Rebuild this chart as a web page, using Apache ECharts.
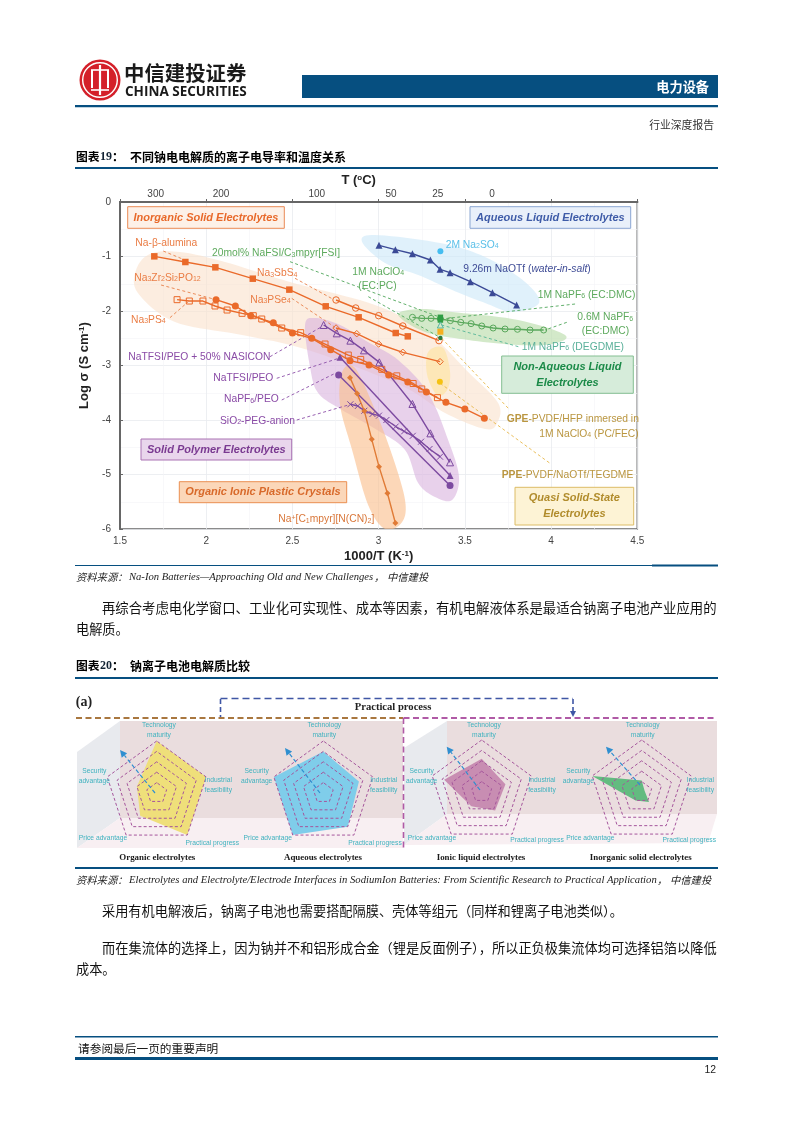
<!DOCTYPE html>
<html><head><meta charset="utf-8">
<style>html,body{margin:0;padding:0;background:#fff}#c{width:793px;height:1122px}</style>
<script src="https://cdn.jsdelivr.net/npm/echarts@6/dist/echarts.min.js"></script>
</head><body><div id="c"></div>
<script>
// ---------- main chart data (1000/T, log sigma) ----------
const naBetaAlumina=[[1.699,-0.997],[1.879,-1.101],[2.053,-1.199],[2.27,-1.407],[2.482,-1.608],[2.693,-1.914],[2.884,-2.116],[3.099,-2.404],[3.169,-2.465]];
const na3SbS4=[[2.753,-1.798],[2.867,-1.945],[3.0,-2.086],[3.14,-2.275],[3.35,-2.544]];
const na3PSe4=[[2.753,-2.312],[2.873,-2.416],[3.0,-2.606],[3.14,-2.758],[3.356,-2.93]];
const nasicon=[[2.057,-1.792],[2.169,-1.908],[2.258,-2.086],[2.389,-2.214],[2.5,-2.404],[2.612,-2.502],[2.722,-2.71],[2.834,-2.911],[2.944,-2.99],[3.058,-3.174],[3.169,-3.303],[3.277,-3.486],[3.39,-3.676],[3.5,-3.798],[3.613,-3.97]];
const na3PS4=[[1.831,-1.792],[1.902,-1.817],[1.981,-1.817],[2.051,-1.908],[2.121,-1.982],[2.208,-2.043],[2.273,-2.086],[2.322,-2.147],[2.438,-2.312],[2.548,-2.398],[2.689,-2.606],[2.824,-2.808],[2.896,-2.888],[3.018,-3.07],[3.105,-3.19],[3.2,-3.33],[3.25,-3.43],[3.341,-3.59]];
const peoNasicon=[[2.681,-2.257],[2.757,-2.41],[2.836,-2.544],[2.915,-2.722],[3.004,-2.942],[3.196,-3.706],[3.3,-4.245],[3.414,-4.777]];
const naTfsiPeo=[[2.776,-2.85],[3.414,-5.02]];
const naPf6Peo=[[2.768,-3.174],[3.414,-5.2]];
const sio2Peg=[[2.836,-3.712],[2.879,-3.743],[2.917,-3.83],[2.964,-3.89],[3.002,-3.92],[3.045,-4.0],[3.099,-4.12],[3.148,-4.208],[3.198,-4.29],[3.246,-4.398],[3.295,-4.532],[3.356,-4.673]];
const c1mpyr=[[2.834,-3.223],[2.875,-3.516],[2.917,-3.835],[2.96,-4.355],[3.002,-4.856],[3.051,-5.345],[3.097,-5.89]];
const naOTf=[[3.002,-0.795],[3.097,-0.875],[3.196,-0.949],[3.3,-1.064],[3.356,-1.235],[3.414,-1.297],[3.532,-1.462],[3.66,-1.664],[3.8,-1.89]];
const na2SO4=[[3.358,-0.905]];
const naPf6Ec=[[3.196,-2.116],[3.25,-2.135],[3.304,-2.135],[3.358,-2.147],[3.416,-2.177],[3.476,-2.208],[3.536,-2.232],[3.598,-2.275],[3.664,-2.312],[3.733,-2.33],[3.805,-2.336],[3.878,-2.349],[3.957,-2.349]];
const greenSquares=[[3.358,-2.116],[3.358,-2.165]];
const degdme=[[3.358,-2.257]];
const gpeSquare=[[3.358,-2.38]];
const clo4Dot=[[3.358,-2.495]];
const ppeDot=[[3.355,-3.297]];
// dashed leader lines
const leaders=[
 ['#e8804a',[[1.751,-0.9],[1.876,-1.064]]],['#e8804a',[[1.738,-1.523],[2.051,-1.787]]],
 ['#e8804a',[[1.79,-2.122],[1.896,-1.829]]],['#e8804a',[[2.515,-1.4],[2.737,-1.786]]],
 ['#e8804a',[[2.496,-1.768],[2.747,-2.3]]],['#4fa65a',[[2.486,-1.095],[3.347,-2.104]]],
 ['#4fa65a',[[2.94,-1.737],[3.347,-2.47]]],['#4fa65a',[[4.139,-1.872],[3.365,-2.147]]],
 ['#4fa65a',[[4.091,-2.208],[3.965,-2.349]]],['#55b596',[[3.81,-2.654],[3.365,-2.257]]],
 ['#8c4fa8',[[2.37,-2.838],[2.67,-2.287]]],['#8c4fa8',[[2.409,-3.235],[2.766,-2.87]]],
 ['#8c4fa8',[[2.438,-3.633],[2.747,-3.144]]],['#8c4fa8',[[2.525,-4.0],[2.824,-3.725]]],
 ['#e8b84a',[[3.365,-2.5],[3.752,-3.786]]],['#e8b84a',[[3.357,-3.327],[3.994,-4.795]]]
];
// shaded regions
const blobInorganic=[[1.593,-1.248],[1.674,-0.954],[1.848,-0.917],[2.109,-1.101],[2.486,-1.468],[2.979,-1.89],[3.281,-2.385],[3.519,-3.119],[3.693,-3.688],[3.687,-4.055],[3.617,-4.165],[3.385,-3.872],[3.124,-3.358],[2.59,-2.716],[2.208,-2.44],[1.819,-2.202],[1.604,-1.67]];
const blobPolymer=[[2.573,-2.257],[2.631,-2.128],[2.776,-2.257],[2.938,-2.569],[3.113,-2.899],[3.287,-3.505],[3.403,-4.367],[3.466,-5.046],[3.426,-5.468],[3.327,-5.413],[3.229,-5.156],[3.153,-4.55],[2.991,-4.183],[2.788,-3.817],[2.649,-3.505],[2.602,-3.028]];
const blobPlastic=[[2.788,-3.119],[2.863,-3.046],[2.979,-3.817],[3.078,-4.642],[3.153,-5.468],[3.136,-5.872],[3.037,-6],[2.939,-5.56],[2.846,-4.55],[2.776,-3.725]];
const blobAqueous=[[2.904,-0.734],[2.979,-0.606],[3.356,-0.752],[3.617,-1.009],[3.849,-1.468],[3.93,-1.853],[3.774,-2.018],[3.617,-1.853],[3.426,-1.615],[3.229,-1.339],[3.037,-1.119]];
const blobNonAqueous=[[3.113,-2.073],[3.229,-1.963],[3.426,-2.018],[3.809,-2.165],[4.081,-2.44],[4.006,-2.606],[3.809,-2.624],[3.519,-2.532],[3.269,-2.385]];
const blobQuasi=[[3.287,-2.752],[3.374,-2.679],[3.414,-3.119],[3.397,-3.45],[3.339,-3.541],[3.281,-3.174]];
// axes
const topTickValues=[1.707,2.086,2.641,3.072,3.343,3.658];
const topTickLabels=['300','200','100','50','25','0'];
// radar data
const radarAxes=['Technology maturity','Security advantage','Price advantage','Practical progress','Industrial feasibility'];
const organicValues=[5,2.0,2.7,5,5];
const aqueousValues=[4,5,5,4,3.6];
const ionicValues=[3.2,3.8,1.7,2.2,2.4];
const inorganicValues=[1.1,5,1.0,1.2,0.3];

// ---------- helpers ----------
const SANS='"Liberation Sans",Arial,sans-serif', CJK='"Noto Sans CJK SC",sans-serif', SERIF='"Liberation Serif","Noto Sans CJK SC",serif';
function T(text,x,y,o){o=o||{};const fs=o.size||10.3;
 return {type:'text',x,y,z:o.z||20,silent:true,style:{text,fill:o.color||'#333',fontSize:fs,fontFamily:o.font||SANS,fontWeight:o.weight||'normal',fontStyle:o.style||'normal',align:o.align||'left',verticalAlign:'middle',
  rich:{s:{fontSize:fs*0.68,verticalAlign:'bottom',fill:o.color||'#333'},u:{fontSize:fs*0.68,verticalAlign:'top',fill:o.color||'#333'},b:{fontSize:fs,fontWeight:'bold',fill:o.color||'#333',fontFamily:o.font||SANS},i:{fontSize:fs,fontStyle:'italic',fill:o.color||'#333',fontFamily:o.font||SANS}}}};}
function R(x,y,w,h,fill,o){o=o||{};return {type:'rect',z:o.z===undefined?1:o.z,silent:true,shape:{x,y,width:w,height:h},style:{fill,stroke:o.stroke||null,lineWidth:o.lw||0}};}
function L(x1,y1,x2,y2,color,w,dash,z){return {type:'line',z:z||3,silent:true,shape:{x1,y1,x2,y2},style:{stroke:color,lineWidth:w,lineDash:dash||null,fill:null}};}
function P(points,fill,z){return {type:'polygon',z:z===undefined?-5:z,silent:true,shape:{points},style:{fill}};}
function arrow(x1,y1,x2,y2,color,w,dash,sz){const a=Math.atan2(y2-y1,x2-x1),c=Math.cos(a),s=Math.sin(a);
 return [L(x1,y1,x2-c*sz,y2-s*sz,color,w,dash,6),P([[x2,y2],[x2-c*sz-s*sz*.5,y2-s*sz+c*sz*.5],[x2-c*sz+s*sz*.5,y2-s*sz-c*sz*.5]],color,6)];}
function box(x0,y0,x1,y1,fill,stroke,color,lines){const out=[R(x0,y0,x1-x0,y1-y0,fill,{stroke,lw:1,z:12})];const fs=11;const lh=16;const cy=(y0+y1)/2;
 lines.forEach((t,i)=>out.push(T(t,(x0+x1)/2,cy+(i-(lines.length-1)/2)*lh,{size:fs,color,weight:'bold',style:'italic',align:'center'})));return out;}
// closed Catmull-Rom outline through the region's pixel points, for a soft blob edge
function soften(p){const out=[],n=p.length;for(let i=0;i<n;i++){const a=p[(i-1+n)%n],b=p[i],c=p[(i+1)%n],d=p[(i+2)%n];
  for(let k=0;k<10;k++){const t=k/10,t2=t*t,t3=t2*t;
   out.push([0,1].map(j=>0.5*(2*b[j]+(c[j]-a[j])*t+(2*a[j]-5*b[j]+4*c[j]-d[j])*t2+(3*b[j]-a[j]-3*c[j]+d[j])*t3)));}}
 return out;}

// ---------- series ----------
function lineS(name,data,color,symbol,size,open,extra){return Object.assign({name,type:'line',data,showAllSymbol:true,symbol,symbolSize:size,z:5,silent:true,animation:false,clip:false,
 lineStyle:{color,width:1.4},itemStyle:{color:open?'rgba(255,255,255,0)':color,borderColor:color,borderWidth:open?1:0}},extra||{});}
function blob(name,pts,color,z){return {name,type:'custom',z:z||1,silent:true,animation:false,clip:true,data:[[pts[0][0],pts[0][1]]],
 renderItem:(p,api)=>({type:'polygon',shape:{points:soften(pts.map(q=>api.coord(q)))},style:{fill:color}})};}
const OR='#ea6a2a',PU='#7c4aa0',GR='#5aa85c',CROSS='path://M0 0L10 10M10 0L0 10';
const series=[
 blob('Inorganic region',blobInorganic,'rgba(250,226,205,.62)'),
 blob('Aqueous region',blobAqueous,'rgba(205,232,248,.62)'),
 blob('Non-aqueous region',blobNonAqueous,'rgba(190,222,176,.68)'),
 blob('Quasi-solid region',blobQuasi,'rgba(253,228,165,.7)'),
 blob('Polymer region',blobPolymer,'rgba(216,175,220,.58)'),
 blob('Plastic crystal region',blobPlastic,'rgba(250,190,140,.62)'),
];
leaders.forEach((l,i)=>series.push({name:'leader '+i,type:'line',data:l[1],symbol:'none',z:3,silent:true,animation:false,clip:false,lineStyle:{color:l[0],width:0.9,type:[3,2.5]}}));
series.push(
 lineS('Na-β-alumina',naBetaAlumina,OR,'rect',6.5,false),
 lineS('Na3SbS4',na3SbS4,OR,'circle',6.5,true),
 lineS('Na3PSe4',na3PSe4,OR,'diamond',6.5,true),
 lineS('Na3PS4',na3PS4,OR,'rect',6,true),
 lineS('Na3Zr2Si2PO12',nasicon,OR,'circle',7,false),
 lineS('NaTFSI/PEO + 50% NASICON',peoNasicon,PU,'triangle',7,true),
 lineS('NaTFSI/PEO',naTfsiPeo,PU,'triangle',7,false),
 lineS('NaPF6/PEO',naPf6Peo,PU,'circle',7,false),
 lineS('SiO2-PEG-anion',sio2Peg,PU,CROSS,6,true),
 lineS('Na+[C1mpyr][N(CN)2]',c1mpyr,'#e07b36','diamond',6,false),
 lineS('9.26m NaOTf',naOTf,'#3b4a96','triangle',7,false),
 lineS('2M Na2SO4',na2SO4,'#45bdf0','circle',6,false),
 lineS('0.6M NaPF6',naPf6Ec,GR,'circle',6,true),
 lineS('1M NaPF6 (EC:DMC)',greenSquares,'#2f9e44','rect',5.5,false),
 lineS('1M NaPF6 (DEGDME)',degdme,'#55b5a0','triangle',6,true),
 lineS('GPE square',gpeSquare,'#f5b021','rect',6,false),
 lineS('1M NaClO4 (EC:PC)',clo4Dot,'#2c7a3c','circle',4.5,false),
 lineS('PPE',ppeDot,'#f5c211','circle',6,false)
);
const radarColors=['#efdf7a','#7fcdea','#c88db2','#63bb80'];
const radarCenters=[[156.7,793],[323.3,793],[481.7,792],[641.7,792]];
[organicValues,aqueousValues,ionicValues,inorganicValues].forEach((v,i)=>series.push({type:'radar',radarIndex:i,silent:true,animation:false,symbol:'none',z:4,
 data:[{value:v,lineStyle:{width:0},areaStyle:{color:radarColors[i],opacity:1}}]}));
const radars=radarCenters.map(c=>({center:c,radius:52,startAngle:90,splitNumber:5,shape:'polygon',z:5,
 indicator:radarAxes.map(name=>({name,max:5,min:0})),axisName:{show:false},axisLine:{show:false},axisTick:{show:false},splitArea:{show:false},
 splitLine:{lineStyle:{color:'#a5559c',type:[3,2.2],width:1}}}));

// ---------- page furniture ----------
const BLUE='#064f80';
let g=[];
// logo
g.push({type:'circle',z:3,silent:true,shape:{cx:100,cy:80,r:20.5},style:{fill:'#d4202a'}});
g.push({type:'circle',z:4,silent:true,shape:{cx:100,cy:80,r:17.3},style:{fill:null,stroke:'#fff',lineWidth:1.4}});
[[91,70,2,18],[98.9,65,2.2,30],[107,70,2,18]].forEach(r=>g.push(R(r[0],r[1],r[2],r[3],'#fff',{z:4})));
[[91,70,109,70],[91,90,109,90]].forEach(l=>g.push(L(l[0],l[1],l[2],l[3],'#fff',1.6,null,4)));
g.push(T('中信建投证券',124,73.5,{font:CJK,size:20.4,weight:'bold',color:'#1a1a1a'}));
g.push(T('CHINA SECURITIES',125,92,{size:13.5,weight:'bold',color:'#1a1a1a',font:'"Open Sans","Liberation Sans",sans-serif'}));
g.push(R(302,75,416,23,BLUE),T('电力设备',709,87,{font:CJK,size:13.2,weight:'bold',color:'#fff',align:'right'}));
g.push(R(75,105,643,2.2,BLUE));
g.push(T('行业深度报告',714,124.5,{font:CJK,size:10.8,color:'#333',align:'right'}));
// figure 19 heading
g.push(T('图表',76,157,{font:CJK,size:11.8,weight:'bold',color:'#000'}),T('19',100,157,{font:SERIF,size:12,weight:'bold',color:'#123'}),T('：',112,157,{font:CJK,size:11.8,weight:'bold',color:'#000'}));
g.push(T('不同钠电电解质的离子电导率和温度关系',130,157,{font:CJK,size:12,weight:'bold',color:'#000'}));
g.push(R(75,167,643,2,BLUE));
g.push(R(75,565,577,1,BLUE),R(652,564.5,66,2,BLUE));
g.push(T('资料来源：',76,577,{font:CJK,size:10.3,style:'italic',color:'#222'}),T('Na-Ion Batteries—Approaching Old and New Challenges',129,577,{font:SERIF,size:10.6,style:'italic',color:'#222'}),T('，',374,577,{font:CJK,size:10.3,style:'italic',color:'#222'}),T('中信建投',387,577,{font:CJK,size:10.3,style:'italic',color:'#222'}));
// body
g.push(T('再综合考虑电化学窗口、工业化可实现性、成本等因素，有机电解液体系是最适合钠离子电池产业应用的',102,607.5,{font:CJK,size:13.37,color:'#111'}));
g.push(T('电解质。',76,628.7,{font:CJK,size:13.2,color:'#111'}));
g.push(T('图表',76,666,{font:CJK,size:11.8,weight:'bold',color:'#000'}),T('20',100,666,{font:SERIF,size:12,weight:'bold',color:'#123'}),T('：',112,666,{font:CJK,size:11.8,weight:'bold',color:'#000'}));
g.push(T('钠离子电池电解质比较',130,666,{font:CJK,size:12,weight:'bold',color:'#000'}));
g.push(R(75,677,643,2,BLUE));
// figure 20 panels
g.push(P([[77,752],[120,721],[120,818],[77,848]],'#e8eaee'));
g.push(P([[120,721],[403,721],[403,818],[120,818]],'#eaddde'));
g.push(P([[120,818],[403,818],[403,848],[77,848]],'#f8eff2'));
g.push(P([[404,748],[447,721],[447,814],[404,845]],'#e8eaee'));
g.push(P([[447,721],[717,721],[717,814],[447,814]],'#eaddde'));
g.push(P([[447,814],[717,814],[708,843],[404,845]],'#f8eff2'));
g.push(L(76,718,403,718,'#a9773f',2,[6,3.5]),L(403.5,718,717,718,'#b05aa6',2,[6,3.5]),L(403.5,718,403.5,848,'#b05aa6',1.6,[6,3.5]));
g.push(L(220.5,699,220.5,717,'#3f56a5',1.6,[5,3]),L(220.5,698.5,573,698.5,'#3f56a5',1.6,[7,4]));
g.push(...arrow(573,699,573,717,'#3f56a5',1.6,[5,3],6));
g.push(T('(a)',84,702,{font:SERIF,size:14,weight:'bold',color:'#222',align:'center'}));
g.push(T('Practical process',393,707,{font:SERIF,size:10.6,weight:'bold',color:'#222',align:'center'}));
[[155,793,120,750],[320,793,285,748],[480,790,446.7,746.7],[640,785,606,746.7]].forEach(a=>g.push(...arrow(a[0],a[1],a[2],a[3],'#2f8fd0',1.2,[4,2.5],7)));
const RC='#3fb2bf',RS=6.7;
[[159,94.3,218.3,103,838,212.3,842.7],[324.3,256.7,383.7,267.7,838,375,842.7],[484,421.7,542,432,837.7,537,840],[642.7,578.3,700.3,590.3,837.7,689.3,840]].forEach(p=>{
 const o={size:RS,color:RC,align:'center'};
 g.push(T('Technology',p[0],725,o),T('maturity',p[0],735,o),T('Security',p[1],771,o),T('advantage',p[1],781,o),T('Industrial',p[2],780,o),T('feasibility',p[2],789.7,o),T('Price advantage',p[3],p[4],o),T('Practical progress',p[5],p[6],o));
});
[['Organic electrolytes',157.3],['Aqueous electrolytes',323],['Ionic liquid electrolytes',481],['Inorganic solid electrolytes',640.7]].forEach(a=>g.push(T(a[0],a[1],857.7,{font:SERIF,size:8.9,weight:'bold',color:'#1a1a1a',align:'center'})));
g.push(R(75,867,643,2,BLUE));
g.push(T('资料来源：',76,880,{font:CJK,size:10.3,style:'italic',color:'#222'}),T('Electrolytes and Electrolyte/Electrode Interfaces in SodiumIon Batteries: From Scientific Research to Practical Application',129,880,{font:SERIF,size:10.66,style:'italic',color:'#222'}),T('，',657,880,{font:CJK,size:10.3,style:'italic',color:'#222'}),T('中信建投',670,880,{font:CJK,size:10.3,style:'italic',color:'#222'}));
g.push(T('采用有机电解液后，钠离子电池也需要搭配隔膜、壳体等组元（同样和锂离子电池类似）。',102,911,{font:CJK,size:13.2,color:'#111'}));
g.push(T('而在集流体的选择上，因为钠并不和铝形成合金（锂是反面例子），所以正负极集流体均可选择铝箔以降低',102,948,{font:CJK,size:13.22,color:'#111'}));
g.push(T('成本。',76,969,{font:CJK,size:13.2,color:'#111'}));
g.push(R(75,1036,643,1.5,BLUE),T('请参阅最后一页的重要声明',78,1049,{font:CJK,size:11.7,color:'#111'}),R(75,1057,643,3,BLUE));
g.push(T('12',716,1070,{size:10.4,color:'#222',align:'right'}));
// chart boxes
g.push(...box(127.7,206.7,284.3,228.3,'#fdf1e8','#ea8a55','#e8692a',['Inorganic Solid Electrolytes']));
g.push(...box(470,206.7,630.7,228.3,'#e9f0fa','#8aa6d2','#3f5ca8',['Aqueous Liquid Electrolytes']));
g.push(...box(501.7,356,633.3,393.3,'#d6ecda','#84bf92','#1b8a48',['Non-Aqueous Liquid','Electrolytes']));
g.push(...box(141,439,291.7,460,'#e9d6ec','#aa72b3','#7a3a91',['Solid Polymer Electrolytes']));
g.push(...box(179.3,481.7,346.7,502.7,'#fbd7b9','#ea8f52','#d8692a',['Organic Ionic Plastic Crystals']));
g.push(...box(515,487.3,633.7,525,'#fdf3d5','#dcbc66','#b18c2c',['Quasi Solid-State','Electrolytes']));
// chart labels
const O='#ea7d45',V='#8a4ba6',G='#5eaa5e',TE='#5ab09a',Y='#ba9640';
[['Na-β-alumina',135.3,243,O],['20mol% NaFSI/C{s|3}mpyr[FSI]',212,253.3,G],['Na{s|3}Zr{s|2}Si{s|2}PO{s|12}',134.3,277.7,O],['Na{s|3}PS{s|4}',131,320,O],['Na{s|3}SbS{s|4}',257,273.3,O],['Na{s|3}PSe{s|4}',250.3,300,O],
 ['1M NaClO{s|4}',352.3,271.7,G],['(EC:PC)',358.3,285.7,G],['NaTFSI/PEO + 50% NASICON',128.3,357.3,V],['NaTFSI/PEO',213.3,378.3,V],['NaPF{s|6}/PEO',224,399.3,V],['SiO{s|2}-PEG-anion',220,421,V],
 ['Na{u|+}[C{s|1}mpyr][N(CN){s|2}]',278.3,519.3,'#d9773a'],['2M Na{s|2}SO{s|4}',445.7,245,'#59bfe8'],['9.26m NaOTf ({i|water-in-salt})',463.3,269,'#3f4c96'],['1M NaPF{s|6} (EC:DMC)',537.7,295,G],
 ['0.6M NaPF{s|6}',577.3,317.3,G],['(EC:DMC)',581.7,331,G],['1M NaPF{s|6} (DEGDME)',521.7,347,TE],['{b|GPE}-PVDF/HFP inmersed in',506.7,419,Y],['1M NaClO{s|4} (PC/FEC)',539.3,434,Y],['{b|PPE}-PVDF/NaOTf/TEGDME',501.7,475,Y]
].forEach(l=>g.push(T(l[0],l[1],l[2],{color:l[3]})));

// ---------- chart ----------
const axisLine={show:true,lineStyle:{color:'#666',width:2}};
const splitLine={show:true,lineStyle:{color:'#e9ebef',width:0.8}};
const minorSplitLine={show:true,lineStyle:{color:'#f3f4f6',width:0.6}};
const nameStyle={fontFamily:SANS,fontSize:13,fontWeight:'bold',color:'#222',rich:{u:{fontSize:8,fontWeight:'bold',verticalAlign:'top',color:'#222',fontFamily:SANS}}};
const chart=echarts.init(document.getElementById('c'),null,{renderer:'canvas',width:793,height:1122});
chart.setOption({animation:false,backgroundColor:'#fff',
 grid:{left:120,top:202,width:517.3,height:327,show:true,borderColor:'#666',borderWidth:1.5,backgroundColor:'transparent',containLabel:false},
 xAxis:[
  {type:'value',min:1.5,max:4.5,interval:0.5,position:'bottom',name:'1000/T (K{u|-1})',nameLocation:'middle',nameGap:21,nameTextStyle:nameStyle,axisLine,axisTick:{show:true,inside:true,length:3,lineStyle:{color:'#666'}},minorTick:{show:false,splitNumber:2},splitLine,minorSplitLine,
   axisLabel:{color:'#444',fontSize:10,fontFamily:SANS,margin:7,formatter:v=>String(v),showMinLabel:true,showMaxLabel:true}},
  {type:'value',min:1.5,max:4.5,position:'top',name:'T ({u|o}C)',nameLocation:'middle',nameGap:15,nameTextStyle:Object.assign({},nameStyle,{padding:[0,40,0,0]}),axisLine,axisTick:{show:false},splitLine:{show:false},
   axisLabel:{color:'#444',fontSize:10,fontFamily:SANS,margin:3,customValues:topTickValues,formatter:v=>topTickLabels[topTickValues.indexOf(v)]}}
 ],
 yAxis:{type:'value',min:-6,max:0,interval:1,name:'Log σ (S cm{u|-1})',nameLocation:'middle',nameGap:10,nameRotate:90,nameTextStyle:nameStyle,axisLine,axisTick:{show:true,inside:true,length:3,lineStyle:{color:'#666'}},minorTick:{show:false,splitNumber:2},splitLine,minorSplitLine,
  axisLabel:{color:'#444',fontSize:10,fontFamily:SANS,margin:9}},
 radar:radars,series,
 graphic:{elements:g}
});
</script></body></html>
